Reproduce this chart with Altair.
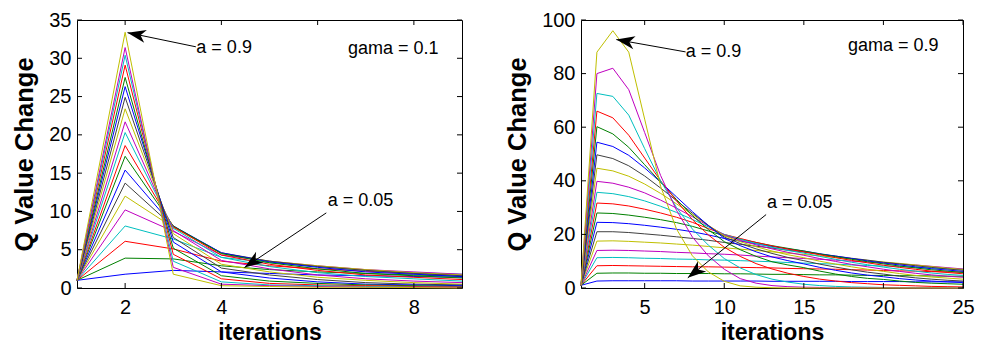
import math
import altair as alt
import pandas as pd

FONT = "Liberation Sans"
COLORS7 = ["#0000FF", "#008000", "#FF0000", "#00BFBF", "#BF00BF", "#BFBF00", "#404040"]

# ---------------- left panel (gama = 0.1) ----------------
left_x = [1, 2, 3, 4, 5, 6, 7, 8, 9]
left_a01 = [1.0, 1.8, 2.3, 2.1, 1.9, 1.7, 1.6, 1.5, 1.4]
left_a02 = [1.0, 3.9, 3.8, 2.9, 2.4, 2.1, 1.9, 1.7, 1.5]
left_a03 = [1.0, 6.1, 5.1, 3.5, 2.9, 2.5, 2.2, 1.9, 1.7]
left_a04 = [1.0, 8.1, 6.4, 4.0, 3.3, 2.8, 2.3, 2.0, 1.8]
left_a05 = [1.0, 10.2, 7.4, 4.3, 3.5, 2.9, 2.4, 2.1, 1.8]
left_a06 = [1.0, 12.0, 7.9, 4.5, 3.5, 2.9, 2.4, 2.0, 1.7]
left_a07 = [1.0, 13.7, 8.0, 4.6, 3.5, 2.8, 2.3, 1.9, 1.6]
left_a08 = [1.0, 15.4, 8.1, 4.6, 3.4, 2.7, 2.1, 1.8, 1.5]
left_a09 = [1.0, 17.2, 8.1, 4.5, 3.3, 2.5, 1.9, 1.6, 1.3]
left_a10 = [1.0, 18.6, 8.0, 4.3, 3.1, 2.3, 1.7, 1.4, 1.1]
left_a11 = [1.0, 20.3, 7.8, 4.0, 2.8, 2.0, 1.5, 1.2, 0.9]
left_a12 = [1.0, 21.7, 7.5, 3.6, 2.5, 1.7, 1.2, 0.9, 0.7]
left_a13 = [1.0, 23.4, 7.1, 3.1, 2.1, 1.4, 1.0, 0.7, 0.5]
left_a14 = [1.0, 24.9, 6.6, 2.6, 1.7, 1.1, 0.7, 0.5, 0.4]
left_a15 = [1.0, 26.3, 6.0, 2.1, 1.3, 0.8, 0.5, 0.4, 0.3]
left_a16 = [1.0, 27.5, 5.2, 1.6, 0.9, 0.6, 0.4, 0.3, 0.2]
left_a17 = [1.0, 29.1, 4.4, 1.2, 0.6, 0.4, 0.3, 0.2, 0.15]
left_a18 = [1.0, 30.4, 3.5, 0.8, 0.4, 0.3, 0.2, 0.1, 0.1]
left_a19 = [1.0, 31.4, 2.7, 0.5, 0.3, 0.2, 0.1, 0.1, 0.05]
left_a20 = [1.0, 33.4, 1.8, 0.3, 0.2, 0.1, 0.1, 0.05, 0.0]
left_series = [left_a01, left_a02, left_a03, left_a04, left_a05, left_a06, left_a07,
               left_a08, left_a09, left_a10, left_a11, left_a12, left_a13, left_a14,
               left_a15, left_a16, left_a17, left_a18, left_a19, left_a20]
left_xticks = [2, 4, 6, 8]
left_yticks = [0, 5, 10, 15, 20, 25, 30, 35]
left_note_text = ["a = 0.9", "gama = 0.1", "a = 0.05"]
left_note_x = [3.48, 6.63, 6.21]
left_note_y = [31.4, 31.2, 11.35]
left_arrow_x = [3.47, 6.18]
left_arrow_y = [31.5, 9.81]
left_arrow_x2 = [2.05, 4.48]
left_arrow_y2 = [33.35, 2.68]

# ---------------- right panel (gama = 0.9) ----------------
right_x = [1, 2, 3, 4, 5, 6, 7, 8, 9, 10, 11, 12, 13, 14, 15, 16, 17, 18, 19, 20, 21, 22, 23, 24, 25]
right_a01 = [1, 2.6, 2.7, 2.7, 2.7, 2.7, 2.7, 2.6, 2.6, 2.6, 2.6, 2.6, 2.5, 2.5, 2.5, 2.5, 2.5, 2.4, 2.4, 2.4, 2.4, 2.3, 2.3, 2.3, 2.3]
right_a02 = [1, 5.5, 5.6, 5.6, 5.5, 5.5, 5.4, 5.4, 5.4, 5.3, 5.3, 5.2, 5.1, 5.1, 5.0, 4.9, 4.9, 4.8, 4.7, 4.7, 4.6, 4.6, 4.5, 4.4, 4.4]
right_a03 = [1, 8.3, 8.4, 8.3, 8.2, 8.1, 8.0, 7.9, 7.9, 7.8, 7.7, 7.6, 7.5, 7.3, 7.2, 7.1, 7.0, 6.8, 6.7, 6.5, 6.4, 6.3, 6.1, 6.0, 5.9]
right_a04 = [1, 11.3, 11.4, 11.3, 11.1, 11.0, 10.8, 10.7, 10.5, 10.4, 10.2, 10.0, 9.8, 9.5, 9.3, 9.1, 8.9, 8.6, 8.4, 8.2, 8.0, 7.7, 7.5, 7.2, 7.0]
right_a05 = [1, 14.0, 14.1, 14.0, 13.8, 13.6, 13.3, 13.1, 12.8, 12.6, 12.3, 11.9, 11.6, 11.3, 11.0, 10.7, 10.4, 10.0, 9.7, 9.4, 9.0, 8.6, 8.1, 7.6, 7.1]
right_a06 = [1, 17.5, 17.6, 17.4, 17.1, 16.8, 16.4, 16.0, 15.5, 15.0, 14.5, 14.0, 13.5, 13.0, 12.5, 12.0, 11.4, 10.9, 10.3, 9.7, 9.2, 8.6, 8.0, 7.4, 6.9]
right_a07 = [1, 21.0, 21.0, 20.7, 20.2, 19.7, 19.1, 18.5, 17.8, 17.0, 16.3, 15.6, 14.9, 14.1, 13.4, 12.6, 11.9, 11.1, 10.4, 9.6, 9.0, 8.3, 7.7, 7.1, 6.6]
right_a08 = [1, 24.5, 24.4, 24.0, 23.4, 22.7, 21.9, 21.0, 19.8, 18.5, 17.5, 16.5, 15.5, 14.6, 13.8, 12.8, 11.9, 11.0, 10.1, 9.3, 8.6, 7.9, 7.2, 6.7, 6.2]
right_a09 = [1, 28.0, 27.8, 27.2, 26.4, 25.5, 24.4, 23.0, 21.3, 19.5, 18.2, 17.0, 15.8, 14.8, 13.8, 12.7, 11.7, 10.7, 9.8, 9.0, 8.2, 7.5, 6.8, 6.3, 5.8]
right_a10 = [1, 31.7, 31.4, 30.6, 29.4, 28.0, 26.4, 24.5, 22.2, 20.0, 18.5, 17.0, 15.7, 14.5, 13.5, 12.4, 11.3, 10.3, 9.4, 8.5, 7.7, 7.0, 6.3, 5.8, 5.3]
right_a11 = [1, 35.7, 35.2, 34.1, 32.5, 30.5, 28.2, 25.6, 22.8, 20.0, 18.2, 16.6, 15.2, 14.0, 13.0, 11.8, 10.7, 9.6, 8.7, 7.8, 7.0, 6.3, 5.6, 5.1, 4.7]
right_a12 = [1, 39.8, 39.1, 37.6, 35.5, 32.8, 29.8, 26.6, 23.2, 19.8, 17.8, 16.1, 14.6, 13.3, 12.2, 11.0, 9.9, 8.8, 7.9, 7.0, 6.2, 5.5, 4.9, 4.4, 4.0]
right_a13 = [1, 44.7, 43.7, 41.7, 38.8, 35.3, 31.4, 27.4, 23.4, 19.5, 17.3, 15.4, 13.8, 12.4, 11.3, 10.0, 8.9, 7.9, 7.0, 6.2, 5.4, 4.7, 4.1, 3.7, 3.3]
right_a14 = [1, 49.7, 48.3, 45.6, 41.8, 37.3, 32.6, 27.9, 23.3, 19.0, 16.6, 14.6, 12.9, 11.4, 10.2, 8.9, 7.8, 6.8, 5.9, 5.2, 4.4, 3.8, 3.3, 2.9, 2.6]
right_a15 = [1, 54.4, 52.8, 49.5, 44.8, 39.5, 34.0, 28.5, 23.3, 18.5, 15.8, 13.5, 11.6, 10.2, 9.0, 7.7, 6.6, 5.6, 4.8, 4.2, 3.5, 3.0, 2.6, 2.3, 2.0]
right_a16 = [1, 60.2, 57.5, 52.5, 46.0, 39.5, 33.0, 27.0, 21.8, 17.3, 14.3, 11.8, 9.8, 8.6, 7.6, 6.3, 5.2, 4.3, 3.6, 3.2, 2.6, 2.1, 1.8, 1.6, 1.4]
right_a17 = [1, 66.0, 63.5, 57.0, 48.5, 40.0, 32.5, 25.5, 19.8, 15.2, 11.8, 9.1, 7.1, 5.5, 4.3, 3.3, 2.6, 2.0, 1.6, 1.2, 1.0, 0.8, 0.6, 0.5, 0.4]
right_a18 = [1, 72.6, 71.5, 64.5, 52.0, 40.0, 30.0, 22.0, 16.0, 11.0, 7.5, 5.0, 3.3, 2.2, 1.4, 0.9, 0.6, 0.4, 0.3, 0.2, 0.15, 0.1, 0.1, 0.1, 0.1]
right_a19 = [1, 80.0, 82.0, 74.0, 58.0, 42.0, 29.0, 19.0, 12.0, 7.0, 3.5, 1.8, 0.9, 0.5, 0.3, 0.2, 0.1, 0.1, 0.1, 0.05, 0.05, 0.0, 0.0, 0.0, 0.0]
right_a20 = [1, 88.0, 96.0, 88.0, 63.0, 38.0, 22.0, 12.0, 6.0, 2.5, 0.8, 0.3, 0.1, 0.0, 0.0, 0.0, 0.0, 0.0, 0.0, 0.0, 0.0, 0.0, 0.0, 0.0, 0.0]
right_series = [right_a01, right_a02, right_a03, right_a04, right_a05, right_a06, right_a07,
                right_a08, right_a09, right_a10, right_a11, right_a12, right_a13, right_a14,
                right_a15, right_a16, right_a17, right_a18, right_a19, right_a20]
right_xticks = [5, 10, 15, 20, 25]
right_yticks = [0, 20, 40, 60, 80, 100]
right_note_text = ["a = 0.9", "gama = 0.9", "a = 0.05"]
right_note_x = [7.58, 17.77, 12.68]
right_note_y = [88.1, 90.3, 31.7]
right_arrow_x = [7.57, 12.63]
right_arrow_y = [88.1, 27.4]
right_arrow_x2 = [3.22, 7.71]
right_arrow_y2 = [92.7, 3.8]

ARROW = "M0,0L-0.36,1L0,0.72L0.36,1Z"
TICK = 5


def panel(xvals, series, xdom, ydom, xticks, yticks, W, H,
          nt, nx, ny, ax, ay, ax2, ay2):
    names = ["s%02d" % (i + 1) for i in range(len(series))]
    colors = [COLORS7[i % 7] for i in range(len(series))]
    rows = []
    for name, vals in zip(names, series):
        for x, v in zip(xvals, vals):
            rows.append({"x": x, "v": v, "s": name})
    df = pd.DataFrame(rows)
    xs = alt.Scale(domain=xdom, nice=False, zero=False)
    ys = alt.Scale(domain=ydom, nice=False, zero=False)
    xaxis = alt.Axis(values=xticks)
    yaxis = alt.Axis(values=yticks)

    def X(f):
        return alt.X(f, scale=xs, title="iterations", axis=xaxis)

    def Y(f):
        return alt.Y(f, scale=ys, title="Q Value Change", axis=yaxis)

    lines = alt.Chart(df).mark_line(strokeWidth=1).encode(
        x=X("x:Q"), y=Y("v:Q"),
        color=alt.Color("s:N", scale=alt.Scale(domain=names, range=colors), legend=None),
    )

    xt = pd.DataFrame({"t": xticks})
    yt = pd.DataFrame({"t": yticks})
    tick_b = alt.Chart(xt).mark_rule(color="black", strokeWidth=1).encode(
        x=X("t:Q"), y=alt.value(H), y2=alt.value(H - TICK))
    tick_t = alt.Chart(xt).mark_rule(color="black", strokeWidth=1).encode(
        x=X("t:Q"), y=alt.value(0), y2=alt.value(TICK))
    tick_l = alt.Chart(yt).mark_rule(color="black", strokeWidth=1).encode(
        y=Y("t:Q"), x=alt.value(0), x2=alt.value(TICK))
    tick_r = alt.Chart(yt).mark_rule(color="black", strokeWidth=1).encode(
        y=Y("t:Q"), x=alt.value(W), x2=alt.value(W - TICK))

    notes = pd.DataFrame({"x": nx, "y": ny, "label": nt})
    text = alt.Chart(notes).mark_text(
        align="left", baseline="middle", font=FONT, fontSize=18, color="black"
    ).encode(x=X("x:Q"), y=Y("y:Q"), text="label:N")

    sx = W / (xdom[1] - xdom[0])
    sy = H / (ydom[1] - ydom[0])
    angs = []
    for a, b, a2, b2 in zip(ax, ay, ax2, ay2):
        dx = (a2 - a) * sx
        dy = -(b2 - b) * sy
        angs.append(math.degrees(math.atan2(dx, -dy)) % 360)
    arr = pd.DataFrame({"x": ax, "y": ay, "x2": ax2, "y2": ay2, "ang": angs})
    shaft = alt.Chart(arr).mark_rule(color="black", strokeWidth=1).encode(
        x=X("x:Q"), y=Y("y:Q"), x2="x2:Q", y2="y2:Q")
    head = alt.Chart(arr).mark_point(
        shape=ARROW, filled=True, size=1350, color="black", opacity=1, strokeWidth=0
    ).encode(x=X("x2:Q"), y=Y("y2:Q"), angle=alt.Angle("ang:Q", scale=None))

    return alt.layer(lines, tick_b, tick_t, tick_l, tick_r, shaft, head, text).properties(
        width=W, height=H)


left = panel(left_x, left_series, [1, 9], [0, 35], left_xticks, left_yticks, 385, 268,
             left_note_text, left_note_x, left_note_y,
             left_arrow_x, left_arrow_y, left_arrow_x2, left_arrow_y2)
right = panel(right_x, right_series, [1, 25], [0, 100], right_xticks, right_yticks, 382, 268,
              right_note_text, right_note_x, right_note_y,
              right_arrow_x, right_arrow_y, right_arrow_x2, right_arrow_y2)

chart = alt.hconcat(left, right, spacing=40).properties(
    padding={"left": 4, "top": 1, "right": 0, "bottom": 0}
).configure_view(
    stroke="black", strokeWidth=1
).configure_axis(
    labelFont=FONT, labelFontSize=20, labelColor="black",
    titleFont=FONT, titleFontWeight="bold", titleColor="black",
    ticks=False, domain=False, grid=False, labelFlush=False, labelOverlap=False,
).configure_axisX(
    labelPadding=9, titlePadding=4, titleFontSize=23,
).configure_axisY(
    labelPadding=6, titlePadding=11, titleFontSize=25.5,
)

chart.save("out.html", embed_options={"renderer": "svg", "actions": False})
